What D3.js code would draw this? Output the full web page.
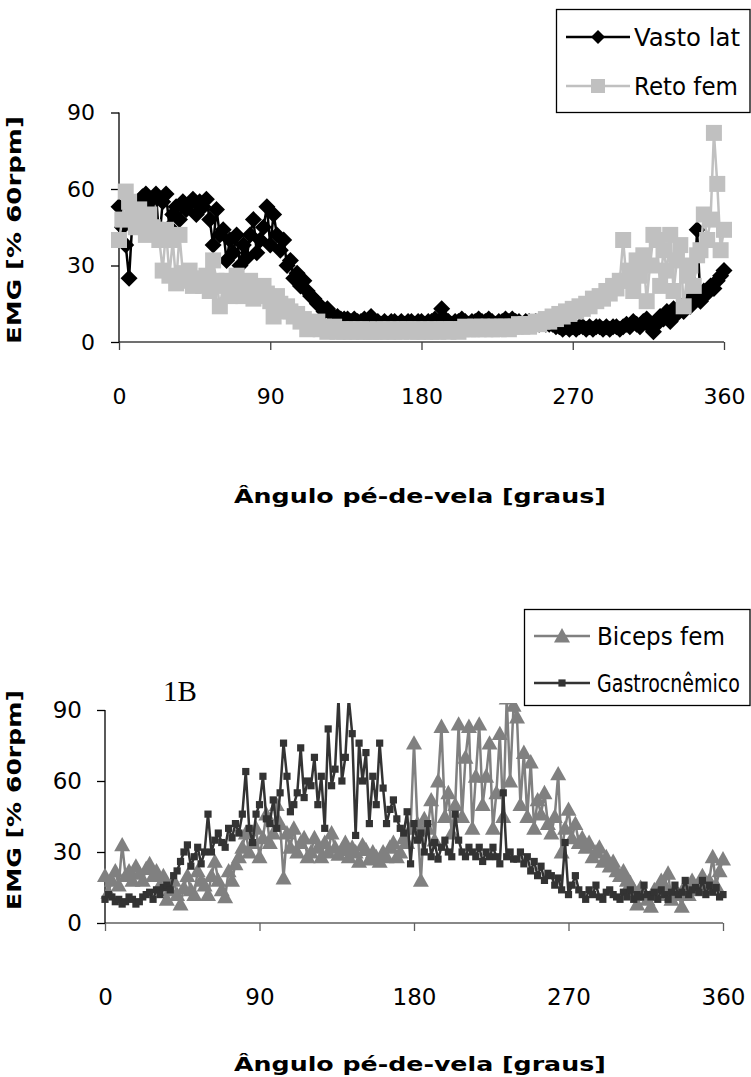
<!DOCTYPE html>
<html>
<head>
<meta charset="utf-8">
<script src="https://cdn.jsdelivr.net/npm/d3@7"></script>
<style>
  html, body { margin: 0; padding: 0; background: #fff; }
  svg { display: block; }
  .tick text { font-family: "DejaVu Sans", sans-serif; fill: #000; }
</style>
</head>
<body>
<svg id="chart" width="751" height="1077"></svg>
<script>
// ---- sample angles (crank angle, degrees), one sample every 2 degrees ----
const angles = d3.range(0, 361, 2);
const xTicks = [0, 90, 180, 270, 360];
const yTicks = [0, 30, 60, 90];

// ---- Figure 1A ----
const vastoLat = [
  53,45,38,25,48,50,55,57,58,52,
  56,58,40,55,58,45,50,53,48,55,
  52,54,56,50,55,53,56,48,38,52,
  42,44,32,40,35,42,30,38,33,42,
  48,35,40,45,53,38,50,42,36,40,
  30,32,25,27,22,24,20,18,17,15,
  14,12,13,11,10,10,9,9,9,8,
  9,8,8,9,8,10,8,8,7,8,
  7,8,8,7,8,7,8,8,7,8,
  8,7,8,8,9,8,13,9,8,7,
  8,8,9,8,7,8,8,9,8,8,
  9,8,7,8,8,9,8,9,8,8,
  7,8,8,7,8,7,8,7,7,7,
  6,6,5,6,5,6,5,6,6,5,
  6,5,6,6,5,6,5,6,6,5,
  6,7,6,8,7,6,8,9,6,4,
  7,10,9,12,8,13,11,14,12,16,
  14,18,44,16,20,19,22,21,24,26,
  28];
const retoFem = [
  40,48,59,55,50,45,52,47,42,50,
  45,44,40,28,44,26,40,23,42,27,
  24,28,22,25,23,22,26,20,32,24,
  14,22,24,18,20,26,22,18,21,24,
  17,20,18,22,19,16,10,18,15,12,
  14,12,10,11,8,9,5,7,6,8,
  5,6,4,5,6,4,5,4,5,4,
  5,4,5,4,5,4,4,5,4,5,
  4,5,4,5,4,5,5,4,5,4,
  5,4,5,4,5,4,5,5,4,5,
  5,4,5,6,5,5,6,5,6,5,
  6,5,6,5,6,6,5,6,6,7,
  6,7,6,7,8,7,8,9,8,10,
  9,11,10,12,11,13,12,14,13,15,
  14,17,16,18,17,20,19,22,21,24,
  40,24,28,20,32,26,34,16,30,42,
  40,22,36,28,42,20,32,38,14,26,
  30,22,34,36,50,40,48,82,62,36,
  44];

// ---- Figure 1B ----
const bicepsFem = [
  20,13,18,22,16,33,20,22,18,24,
  21,18,23,25,20,22,16,20,10,14,
  18,12,8,15,20,14,12,22,18,16,
  12,20,26,18,14,11,22,18,25,28,
  32,38,30,34,40,28,36,46,34,38,
  50,42,19,38,32,40,30,34,36,28,
  30,36,32,28,34,30,38,32,29,31,
  34,28,32,30,26,33,31,27,30,28,
  26,30,28,32,34,28,30,36,34,40,
  76,42,18,44,40,52,35,60,83,45,
  55,38,50,84,45,70,83,40,62,84,
  50,62,76,40,55,80,45,95,60,92,
  87,50,72,45,68,40,52,46,55,42,
  38,45,63,30,40,48,36,42,34,36,
  32,34,28,30,32,26,28,24,26,22,
  20,22,18,17,14,8,15,12,10,7,
  14,12,18,16,21,10,14,12,7,16,
  12,18,14,16,20,15,18,28,16,22,
  27];
const gastrocnemico = [
  10,12,11,9,10,8,9,11,10,8,
  9,11,12,13,10,14,12,15,16,14,
  20,22,26,30,33,24,28,32,25,30,
  46,30,35,38,34,32,40,36,42,38,
  46,64,40,34,46,50,62,44,42,52,
  40,55,76,62,47,50,55,74,53,60,
  58,70,50,62,40,82,58,65,95,60,
  70,95,80,37,76,60,72,42,62,50,
  76,57,42,48,52,44,40,38,47,25,
  42,35,38,30,42,28,34,27,32,35,
  30,28,46,35,30,28,32,30,28,32,
  26,30,28,32,28,25,55,28,30,27,
  27,30,25,28,22,26,20,24,18,21,
  20,16,19,14,34,12,16,20,14,12,
  10,14,12,16,11,10,13,14,12,11,
  10,13,11,14,10,12,11,16,12,11,
  13,10,14,12,10,13,16,12,13,18,
  12,14,15,13,18,12,16,13,15,11,
  12];

const xTitle = "Ângulo pé-de-vela [graus]";
const yTitle = "EMG  [% 60rpm]";

const svg = d3.select("#chart");

const shapes = {
  diamond: (r) => `M0,${-r}L${r},0L0,${r}L${-r},0Z`,
  square: (r) => `M${-r},${-r}H${r}V${r}H${-r}Z`,
  triangle: (r) => `M0,${-r}L${r},${r*0.8}L${-r},${r*0.8}Z`
};

// text squeezed horizontally to a target width via a transform
function fitText(parent, str, x, y, width, style, anchor, rotate) {
  const gg = parent.append("g");
  const t = gg.append("text").text(str);
  Object.entries(style).forEach(([k, v]) => t.style(k, v));
  const natural = t.node().getComputedTextLength();
  const sx = width / natural;
  if (anchor === "middle") t.attr("x", -natural / 2);
  gg.attr("transform", `translate(${x},${y})${rotate ? " rotate(-90)" : ""} scale(${sx},1)`);
  return gg;
}

function drawChart(cfg) {
  const x = d3.scaleLinear().domain([0, 360]).range(cfg.xRange);
  const y = d3.scaleLinear().domain([0, 90]).range(cfg.yRange);
  const g = svg.append("g");

  const xAxis = d3.axisBottom(x).tickValues(xTicks).tickSize(8).tickPadding(cfg.xPad).tickFormat(d3.format("d"));
  const yAxis = d3.axisLeft(y).tickValues(yTicks).tickSize(8).tickPadding(cfg.yPad).tickFormat(d3.format("d"));
  const gx = g.append("g").attr("transform", `translate(0,${cfg.yRange[0]})`).call(xAxis);
  const gy = g.append("g").attr("transform", `translate(${cfg.xRange[0]},0)`).call(yAxis);
  gx.select(".domain").attr("stroke", cfg.xAxisColor).attr("stroke-width", 1.3)
    .attr("d", `M${cfg.xRange[0]},0H${cfg.xRange[1]}`);
  gx.selectAll(".tick line").attr("stroke", cfg.xAxisColor).attr("stroke-width", 1.3);
  gy.select(".domain").attr("stroke", "#000").attr("stroke-width", 1.3)
    .attr("d", `M0,${cfg.yRange[0]}V${cfg.yRange[1]}`);
  gy.selectAll(".tick line").attr("stroke", "#000").attr("stroke-width", 1.3);
  gx.selectAll(".tick text").style("font-size", cfg.tickFont + "px");
  gy.selectAll(".tick text").style("font-size", cfg.tickFont + "px");

  const clipId = "clip" + cfg.id;
  svg.append("clipPath").attr("id", clipId).append("rect")
    .attr("x", 0).attr("y", cfg.clipTop).attr("width", 751).attr("height", cfg.yRange[0] - cfg.clipTop + 20);

  const plot = g.append("g").attr("clip-path", `url(#${clipId})`);
  cfg.series.forEach(s => {
    const data = angles.map((a, i) => [a, s.values[i]]);
    const line = d3.line().x(d => x(d[0])).y(d => y(d[1]));
    plot.append("path").datum(data)
      .attr("d", line).attr("fill", "none")
      .attr("stroke", s.color).attr("stroke-width", s.lw).attr("stroke-linejoin", "round");
    plot.append("g").selectAll("path").data(data).join("path")
      .attr("transform", d => `translate(${x(d[0])},${y(d[1])})`)
      .attr("d", shapes[s.shape](s.r)).attr("fill", s.color);
  });

  const boldStyle = (fs) => ({ "font-family": "DejaVu Sans, sans-serif", "font-weight": "bold", "font-size": fs + "px" });
  fitText(g, xTitle, cfg.xTitlePos[0], cfg.xTitlePos[1], cfg.xTitleLen, boldStyle(cfg.titleFont), "middle", false);
  fitText(g, yTitle, cfg.yTitlePos[0], cfg.yTitlePos[1], cfg.yTitleLen, boldStyle(cfg.yTitleFont), "middle", true);

  const L = cfg.legend;
  g.append("rect").attr("x", L.x).attr("y", L.y).attr("width", L.w).attr("height", L.h)
    .attr("fill", "#fff").attr("stroke", "#000").attr("stroke-width", 1.3);
  cfg.series.forEach((s, i) => {
    const ly = L.rows[i];
    g.append("line").attr("x1", L.lineX[0]).attr("x2", L.lineX[1]).attr("y1", ly).attr("y2", ly)
      .attr("stroke", s.color).attr("stroke-width", s.lw);
    g.append("path").attr("transform", `translate(${(L.lineX[0] + L.lineX[1]) / 2},${ly})`)
      .attr("d", shapes[s.shape](s.legendR)).attr("fill", s.color);
    fitText(g, s.name, L.textX, ly + L.font * 0.36, s.textLen,
      { "font-family": "DejaVu Sans, sans-serif", "font-size": L.font + "px" }, "start", false);
  });
  return g;
}

drawChart({
  id: "A",
  xRange: [119, 724], yRange: [342, 112.5], clipTop: 0,
  xPad: 38, yPad: 16, tickFont: 22, xAxisColor: "#404040",
  xTitlePos: [420, 503], xTitleLen: 372, titleFont: 20,
  yTitlePos: [21, 230], yTitleLen: 228, yTitleFont: 19,
  series: [
    { name: "Vasto lat", values: vastoLat, color: "#000000", shape: "diamond", r: 8.5, legendR: 7, lw: 2.5, textLen: 106 },
    { name: "Reto fem", values: retoFem, color: "#c0c0c0", shape: "square", r: 8, legendR: 7, lw: 2.5, textLen: 104 }
  ],
  legend: { x: 556.5, y: 9.5, w: 193.5, h: 103, rows: [37, 86], lineX: [566, 630], textX: 634, font: 24 }
});

drawChart({
  id: "B",
  xRange: [105, 723], yRange: [923, 710], clipTop: 703,
  xPad: 58, yPad: 15, tickFont: 23, xAxisColor: "#606060",
  xTitlePos: [420, 1071], xTitleLen: 372, titleFont: 20,
  yTitlePos: [21, 800], yTitleLen: 220, yTitleFont: 19,
  series: [
    { name: "Biceps fem", values: bicepsFem, color: "#808080", shape: "triangle", r: 8, legendR: 8, lw: 2.5, textLen: 128 },
    { name: "Gastrocnêmico", values: gastrocnemico, color: "#333333", shape: "square", r: 3.6, legendR: 3.6, lw: 2.5, textLen: 143 }
  ],
  legend: { x: 524.5, y: 609.5, w: 225.5, h: 96, rows: [636, 683], lineX: [534, 590], textX: 597, font: 24 }
});

svg.append("text").text("1B")
  .attr("x", 163).attr("y", 701)
  .style("font-family", "Liberation Serif, serif").style("font-size", "29px");
</script>
</body>
</html>
